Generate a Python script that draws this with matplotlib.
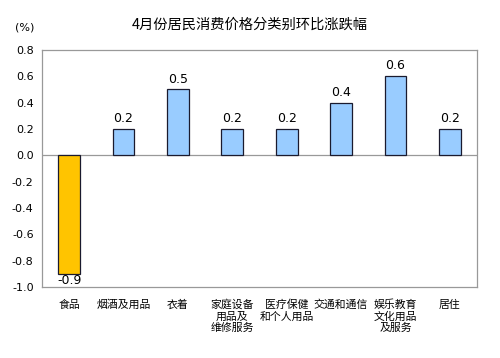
import matplotlib
matplotlib.use("Agg")
import matplotlib.pyplot as plt

plt.rcParams['font.family'] = ['Noto Sans CJK SC', 'DejaVu Sans']

categories = ["食品", "烟酒及用品", "衣着", "家庭设备\n用品及\n维修服务", "医疗保健\n和个人用品",
              "交通和通信", "娱乐教育\n文化用品\n及服务", "居住"]
values = [-0.9, 0.2, 0.5, 0.2, 0.2, 0.4, 0.6, 0.2]
bar_colors = ["#FFC400"] + ["#99CCFF"] * 7
yticks = [0.8, 0.6, 0.4, 0.2, 0.0, -0.2, -0.4, -0.6, -0.8, -1.0]

fig = plt.figure(figsize=(5, 3.58), dpi=100)
ax = fig.add_axes([42/500, 1 - 287/358, 435/500, 237/358])

x = range(len(categories))
ax.bar(x, values, width=0.4, color=bar_colors, edgecolor="#1a1a2e", linewidth=0.9, zorder=3)
ax.axhline(0, color="#999999", linewidth=0.9, zorder=2)

for i, v in zip(x, values):
    if v >= 0:
        ax.text(i, v + 0.03, f"{v:.1f}", ha="center", va="bottom", fontsize=9, family="DejaVu Sans")
    else:
        ax.text(i, v - 0.005, f"{v:.1f}", ha="center", va="top", fontsize=9, family="DejaVu Sans")

ax.set_xlim(-0.5, len(categories) - 0.5)
ax.set_ylim(-1.0, 0.8)
ax.set_yticks(yticks)
ax.set_yticklabels([f"{t:.1f}" for t in yticks], fontsize=8, family="DejaVu Sans")
ax.set_xticks(list(x))
ax.set_xticklabels(categories, fontsize=7.8, linespacing=1.15)
ax.tick_params(axis="both", length=0, pad=6)
ax.tick_params(axis="x", pad=9)
for s in ax.spines.values():
    s.set_color("#999999")
    s.set_linewidth(0.9)

fig.text(0.5, 1 - 25/358, "4月份居民消费价格分类别环比涨跌幅", ha="center", va="center", fontsize=10.3)
fig.text(25/500, 1 - 28/358, "(%)", ha="center", va="center", fontsize=8, family="DejaVu Sans")

fig.savefig("out.png", dpi=100)
